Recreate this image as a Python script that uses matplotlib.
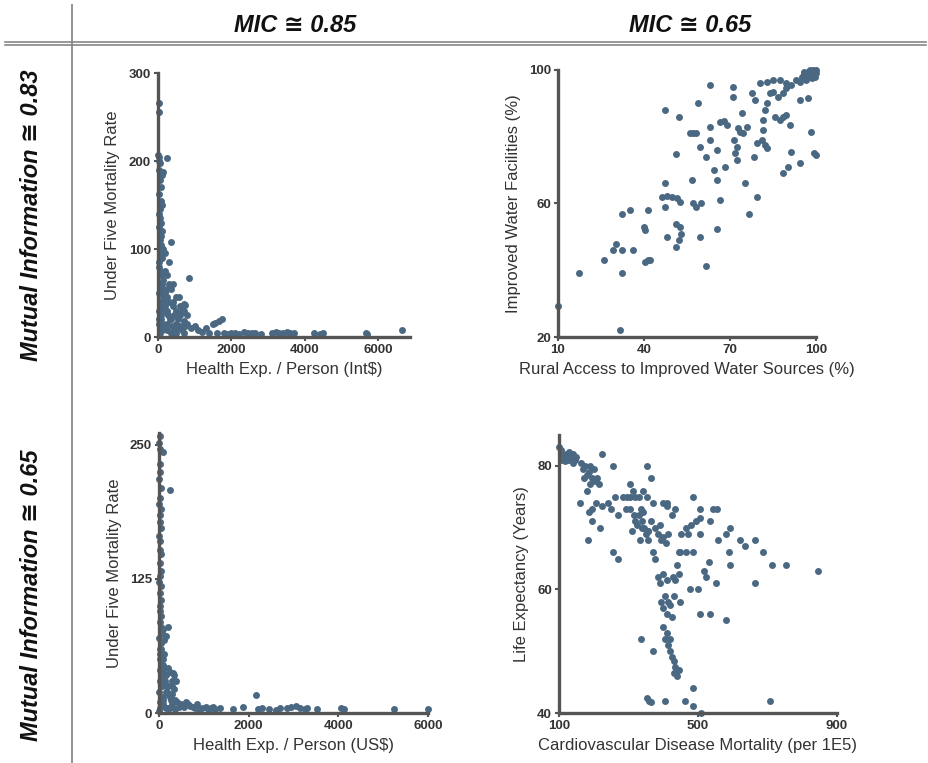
import matplotlib
matplotlib.use("Agg")
import matplotlib.pyplot as plt
from matplotlib.lines import Line2D

# ---- data ----
# top-left: health exp per person (Int$) vs under five mortality
int_x = [20, 35, 15, 40, 30, 60, 25, 110, 45, 70, 30, 80, 100, 55, 40, 65, 95, 30, 120, 75,
         50, 85, 140, 60, 100, 35, 20, 50, 90, 130, 45, 70, 25, 150, 60, 110, 40, 80, 20, 55,
         254, 150, 345, 300, 845, 572, 420, 350, 250, 200, 180, 120, 160, 220,
         300, 400, 500, 600, 700, 750, 650, 550, 450, 350, 250, 200, 150, 250, 380, 480,
         600, 700, 800, 900, 1000, 1100, 1200, 1300, 1400, 1500, 1550, 1650, 1750, 1600,
         1800, 1900, 2000, 2100, 2200, 2350, 2450, 2550, 2650, 2800, 3100, 3200, 3300, 3400,
         3500, 3600, 3700, 4250, 4400, 4500, 5650, 5700, 6650,
         100, 150, 200, 250, 130, 180, 220, 280, 320, 90, 150, 200, 260, 350, 450, 500,
         550, 650, 700, 750, 800, 600, 500, 400, 700, 60, 120, 80, 40, 300, 250]
int_y = [266, 256, 207, 205, 200, 198, 190, 184, 178, 170, 163, 155, 150, 145, 140, 135, 130,
         125, 120, 115, 110, 105, 100, 95, 90, 85, 80, 75, 70, 65, 60, 55, 50, 45, 40, 35,
         30, 25, 20, 10,
         203, 187, 108, 85, 67, 46, 60, 55, 70, 75, 95, 100, 40, 30,
         40, 35, 30, 25, 38, 36, 30, 20, 25, 20, 30, 45, 50, 15, 12, 15,
         12, 18, 15, 10, 12, 8, 6, 10, 5, 15, 16, 18, 21, 4,
         5, 3, 4, 5, 3, 6, 4, 5, 4, 3, 5, 6, 4, 5,
         6, 4, 5, 4, 3, 5, 4, 3, 8,
         60, 55, 50, 45, 40, 35, 30, 25, 20, 20, 15, 10, 8, 5, 8, 5,
         10, 8, 5, 12, 25, 35, 45, 40, 30, 5, 8, 30, 15, 60, 55]

# top-right: rural access to improved water vs improved water facilities
rural_x = [10, 31.6, 17.3, 26.2, 29.2, 30.1, 32.4, 36.2, 32.4, 35.3, 32.4, 39.9, 40.5, 41.3,
           40.5, 41.5, 42.2, 47.5, 47.5, 52.3, 51.3, 46.3, 48, 49.8, 51.5, 52.5, 47.2, 48,
           51.3, 52.5, 53, 52.3, 51.3, 56.7, 57.2, 58.3, 60, 58.8, 56.2, 57.2, 58, 59.4, 59.4,
           61.5, 61.5, 63.1, 63.1, 63.1, 65.4, 64.3, 65.4, 66.4, 65.4, 68.3, 66.6, 68, 68.9,
           71, 71.2, 71.5, 72.3, 71.8, 72.3, 73.4, 74.5, 72.8, 74.3, 76, 75.3, 76.5, 78.4,
           79.4, 77.6, 78.7, 80.5, 82.8, 85.1, 87.4, 89.7, 91.4, 79.4, 81.2, 82.3, 82.8, 81.7,
           81.7, 82.3, 82.8, 84, 85.1, 86.9, 88.6, 89.7, 85.7, 87.4, 88.6, 89.7, 90.9, 88.6,
           90.3, 91.4, 94.3, 94.3, 97.2, 98.3, 100, 99.4, 93, 95, 96, 97, 98, 99, 100, 98.5,
           96.5, 99.5, 94.5, 97.5, 100, 96, 98.8, 99.2, 97.8]
water_y = [29.2, 22.2, 39.2, 43.2, 46.2, 48, 46, 46, 57, 58, 39.2, 53, 52, 58,
           42.5, 43, 43.2, 66, 88, 85.8, 74.8, 62, 62.2, 62, 61.5, 60.5, 59, 50,
           54, 53, 51, 49, 47, 67, 60, 59, 60, 90, 81, 81, 81, 76.8, 50,
           41.2, 74, 95.5, 83, 79, 76, 70, 67, 61, 52.5, 71, 84.5, 84.8, 83.5,
           95, 92, 79, 77, 75, 73, 81.5, 81, 82.5, 87, 83, 66, 57, 74,
           62, 93, 91, 96, 96.5, 97, 97, 96, 95.5, 78, 79, 77.5, 76.5, 82,
           85, 88, 90, 93, 93.5, 92, 93, 94.5, 86, 85, 86, 86.5, 83.5, 69,
           71, 75.5, 72, 91, 91.5, 81.5, 74.5, 75, 97, 98, 99, 98.5, 99.5, 100, 99, 97.5,
           97, 98, 96.5, 99.8, 100, 99.5, 98.2, 99, 100]

# bottom-left: health exp per person (US$) vs under five mortality
us_x = [20, 10, 30, 90, 15, 25, 5, 40, 20, 10, 35, 15, 25, 45, 10, 30, 20, 40, 15, 50,
        25, 10, 35, 20, 45, 15, 30, 55, 20, 40, 60, 10, 35, 50, 25, 15, 45, 30, 60, 20,
        40, 10, 55, 30, 20, 5,
        240, 100, 150, 200, 120, 60,
        50, 100, 150, 200, 250, 314, 300, 200, 150, 100, 250, 350, 400, 300, 200, 450,
        500, 600, 700, 800, 900, 1060, 1150, 1250, 1360, 1660, 1880, 2160, 2200, 2300,
        2450, 2600, 2700, 2860, 2950, 3050, 3150, 3250, 3300, 3530, 4050, 4130, 5250, 6000,
        30, 60, 80, 100, 120, 140, 160, 180, 220, 260, 300, 340, 380, 330, 280, 100, 150,
        250, 350, 550, 650, 750, 850, 950, 1100, 1200, 60, 90, 40, 120]
us_y = [258, 252, 246, 243, 232, 225, 218, 210, 200, 195, 190, 185, 178, 172, 165, 160,
        152, 148, 140, 132, 128, 122, 118, 112, 105, 100, 95, 90, 85, 80, 75, 70, 65, 60,
        55, 50, 45, 40, 35, 30, 25, 20, 15, 10, 5, 2,
        208, 78, 72, 80, 68, 75,
        45, 40, 35, 42, 38, 37, 30, 25, 20, 15, 15, 12, 10, 8, 5, 6,
        8, 10, 7, 5, 4, 6, 5, 4, 5, 4, 6, 17, 4, 5,
        4, 3, 5, 5, 6, 7, 5, 4, 5, 4, 5, 4, 4, 4,
        60, 55, 50, 45, 35, 30, 25, 20, 18, 12, 18, 22, 30, 35, 25, 8, 5,
        5, 4, 6, 8, 6, 8, 5, 4, 6, 25, 12, 35, 55]

# bottom-right: cardiovascular disease mortality vs life expectancy
cvd_x = [100, 105, 110, 115, 120, 125, 130, 135, 140, 145, 150, 108, 118, 128, 140,
         223, 256, 352, 366,
         162, 168, 175, 180, 185, 190, 195, 200, 205, 210, 215, 172, 188,
         160, 180, 196, 206, 225, 240, 250, 262,
         185, 195, 217, 184, 256, 270, 270, 294,
         304, 314, 342, 352, 283, 295, 305, 318, 330,
         305, 315, 320, 325, 330, 338, 345, 350, 310, 335, 342,
         340, 355, 365, 375, 385, 392, 400, 408, 415, 395,
         333, 357, 357, 371, 400, 410, 412, 425, 433,
         371, 376, 385, 390, 400, 410, 428, 435, 445,
         395, 400, 405, 410, 415, 420, 425, 430, 400, 410,
         405, 415, 420, 425, 430, 435, 440, 430, 440, 445, 420,
         337, 371, 352, 360, 365, 405, 462, 486, 486, 510, 706,
         448, 477, 500, 505, 534, 582, 553, 663,
         467, 480, 494, 505, 450, 470, 505,
         487, 505, 534, 543, 555, 486, 448, 467, 517, 532, 522,
         557, 582, 592, 620, 634, 588, 592, 663, 687, 714, 752, 845, 440, 445]
life_y = [83, 82.5, 82, 81.5, 82, 81, 81.5, 81, 82, 81, 81.5, 81, 80.8, 82.3, 80.5,
          82, 80, 80, 78,
          80.5, 79.5, 80, 78.5, 79, 80, 78, 79.5, 77.5, 78, 77, 78, 77,
          74, 76, 73, 74, 73.5, 74, 73, 75,
          72.5, 71, 70, 68, 66, 65, 72, 73,
          77, 76, 76, 75, 75, 75, 75, 75, 75,
          73, 72, 71, 70.5, 72, 71, 70, 69, 69.5, 73, 72.5,
          70, 69.5, 71, 70, 69, 70.5, 68.5, 67.5, 69, 68,
          68, 68, 69.5, 74, 74, 74, 73.5, 72, 73,
          66, 65, 62, 61, 62.5, 61.5, 62, 61.5, 62.5,
          58, 57, 59, 56, 58, 57.5, 55.5, 59, 54, 53,
          52, 51, 50, 49, 48.5, 47.5, 47, 46.5, 46, 47, 52,
          52, 50, 42.5, 42, 41.8, 42, 42, 44, 41.2, 40, 42,
          58, 60, 60, 56, 56, 55, 61, 61,
          70, 70.5, 71, 71.5, 69, 69, 69,
          75, 73, 71, 73, 73, 66, 66, 66, 63, 64.5, 62,
          68, 69, 70, 68, 67, 66, 64, 68, 66, 64, 64, 63, 64, 66]

int_ticks = [0, 2000, 4000, 6000]
mort_ticks1 = [0, 100, 200, 300]
rural_ticks = [10, 40, 70, 100]
water_ticks = [20, 60, 100]
us_ticks = [0, 2000, 4000, 6000]
mort_ticks2 = [0, 125, 250]
cvd_ticks = [100, 500, 900]
life_ticks = [40, 60, 80]

col_titles = ["MIC \u2245 0.85", "MIC \u2245 0.65"]
row_titles = ["Mutual Information \u2245 0.83", "Mutual Information \u2245 0.65"]

dot = "#4a6882"
axcol = "#555555"
head_font = ["Liberation Sans", "DejaVu Sans"]

fig = plt.figure(figsize=(9.29, 7.63), dpi=100)


def panel(rect, x, y, xticks, yticks, xlim, ylim, xlabel, ylabel):
    ax = fig.add_axes(rect)
    ax.plot(x, y, "o", ms=5, color=dot, mec="none", clip_on=False)
    ax.set_xlim(*xlim)
    ax.set_ylim(*ylim)
    ax.set_xticks(xticks)
    ax.set_yticks(yticks)
    for s in ["top", "right"]:
        ax.spines[s].set_visible(False)
    for s in ["left", "bottom"]:
        ax.spines[s].set_linewidth(2.4)
        ax.spines[s].set_color(axcol)
    ax.tick_params(length=3, width=1.5, color=axcol, pad=2, labelsize=9.5,
                   labelcolor="#333333")
    for lab in ax.get_xticklabels() + ax.get_yticklabels():
        lab.set_family(head_font)
        lab.set_weight("bold")
    ax.set_xlabel(xlabel, fontsize=12, color="#333333", family="Liberation Sans", labelpad=4)
    ax.set_ylabel(ylabel, fontsize=12, color="#333333", family="Liberation Sans", labelpad=6)
    return ax


panel([0.170, 0.5583, 0.271, 0.346], int_x, int_y, int_ticks, mort_ticks1,
      (0, 6850), (0, 300), "Health Exp. / Person (Int$)", "Under Five Mortality Rate")
panel([0.6006, 0.5583, 0.2777, 0.350], rural_x, water_y, rural_ticks, water_ticks,
      (10, 100), (20, 100), "Rural Access to Improved Water Sources (%)",
      "Improved Water Facilities (%)")
panel([0.1711, 0.0655, 0.2896, 0.367], us_x, us_y, us_ticks, mort_ticks2,
      (0, 6000), (0, 261), "Health Exp. / Person (US$)", "Under Five Mortality Rate")
panel([0.6017, 0.0655, 0.2992, 0.3644], cvd_x, life_y, cvd_ticks, life_ticks,
      (100, 900), (40, 85), "Cardiovascular Disease Mortality (per 1E5)",
      "Life Expectancy (Years)")

# header grid lines
fig.add_artist(Line2D([0.005, 0.997], [1 - 42 / 763] * 2, color="#888888", lw=1.2))
fig.add_artist(Line2D([0.005, 0.997], [1 - 45 / 763] * 2, color="#888888", lw=1.2))
fig.add_artist(Line2D([72 / 929] * 2, [0, 1 - 5 / 763], color="#888888", lw=1.3))

for t, xc in zip(col_titles, [295 / 929, 690 / 929]):
    fig.text(xc, 1 - 25 / 763, t, ha="center", va="center", fontsize=17,
             weight="bold", style="italic", family=head_font, color="#111111")
for t, yc in zip(row_titles, [1 - 215 / 763, 1 - 595 / 763]):
    fig.text(32 / 929, yc, t, ha="center", va="center", rotation=90, fontsize=17,
             weight="bold", style="italic", family=head_font, color="#111111")

fig.savefig("out.png", dpi=100)
